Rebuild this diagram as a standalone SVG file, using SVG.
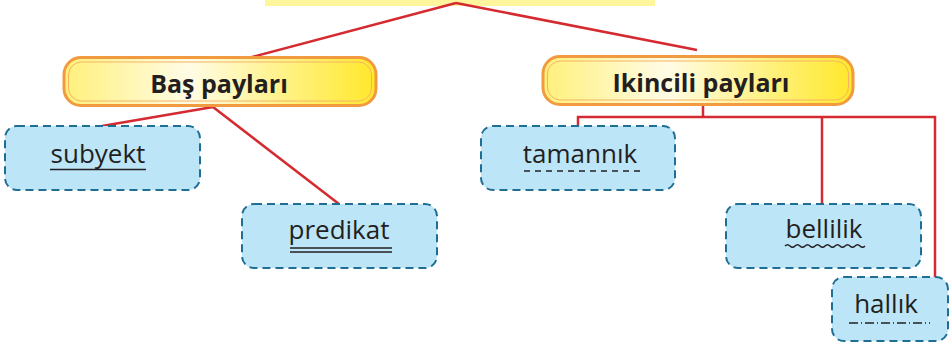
<svg xmlns="http://www.w3.org/2000/svg" width="949" height="348" viewBox="0 0 949 348">
<defs>
<linearGradient id="hg" x1="0" y1="0" x2="1" y2="0">
<stop offset="0" stop-color="#FFF07A"/>
<stop offset="0.4" stop-color="#FFFCE6"/>
<stop offset="1" stop-color="#FFE82A"/>
</linearGradient>
</defs>
<style>
.con{fill:none;stroke:#D42A30;stroke-width:2.5}
.hdr{fill:url(#hg);stroke:#F29A3F;stroke-width:3}
.hin{fill:none;stroke:#F5B366;stroke-width:1}
.box{fill:#BDE5F8;stroke:#1F6E94;stroke-width:2;stroke-dasharray:8 5}
.ht{font-family:"Open Sans",sans-serif;font-weight:bold;font-size:25px;fill:#231F20;text-anchor:middle}
.bt{font-family:"Open Sans",sans-serif;font-size:26px;fill:#231F20;text-anchor:middle}
.ul{fill:none;stroke:#231F20;stroke-width:1.5}
</style>
<rect x="265" y="-10" width="390" height="16" fill="#FFF59D"/>
<g id="connectors">
<path class="con" d="M456,3 L252,57"/>
<path class="con" d="M456,3 L697,50"/>
<path class="con" d="M213,107 L102,126"/>
<path class="con" d="M213,107 L339,204"/>
<path class="con" d="M703,105 L703,117"/>
<path class="con" d="M578,126 L578,117 L935,117 L935,278"/>
<path class="con" d="M822,117 L822,204"/>
</g>
<g id="bas">
<rect class="hdr" x="64" y="57.5" width="312" height="48" rx="17"/>
<rect class="hin" x="68.5" y="62" width="303" height="39" rx="13"/>
<text class="ht" x="219" y="93">Baş payları</text>
</g>
<g id="ikincili">
<rect class="hdr" x="543" y="56.5" width="310" height="48" rx="17"/>
<rect class="hin" x="547.5" y="61" width="301" height="39" rx="13"/>
<text class="ht" x="701" y="92">Ikincili payları</text>
</g>
<g id="subyekt">
<rect class="box" x="5" y="126" width="195" height="64" rx="12"/>
<text class="bt" x="98" y="163">subyekt</text>
<line class="ul" x1="50" y1="169.5" x2="146" y2="169.5" stroke-width="2"/>
</g>
<g id="predikat">
<rect class="box" x="242" y="204" width="195" height="64" rx="12"/>
<text class="bt" x="339" y="239">predikat</text>
<line class="ul" x1="290" y1="248" x2="392" y2="248"/>
<line class="ul" x1="290" y1="252" x2="392" y2="252"/>
</g>
<g id="tamannik">
<rect class="box" x="481" y="126" width="194" height="64" rx="12"/>
<text class="bt" x="580" y="163">tamannık</text>
<line class="ul" x1="524" y1="171" x2="640" y2="171" stroke-dasharray="6 5"/>
</g>
<g id="bellilik">
<rect class="box" x="726" y="204" width="195" height="64" rx="12"/>
<text class="bt" x="824" y="238">bellilik</text>
<path class="ul" stroke-width="1.2" d="M785,246 q2.5,-2.5 5,0 t5,0 t5,0 t5,0 t5,0 t5,0 t5,0 t5,0 t5,0 t5,0 t5,0 t5,0 t5,0 t5,0 t5,0 t5,0"/>
</g>
<g id="hallik">
<rect class="box" x="832" y="277" width="116" height="64" rx="12"/>
<text class="bt" x="886" y="313">hallık</text>
<line class="ul" x1="849" y1="323" x2="930" y2="323" stroke-dasharray="9 3 1 3"/>
</g>
</svg>
